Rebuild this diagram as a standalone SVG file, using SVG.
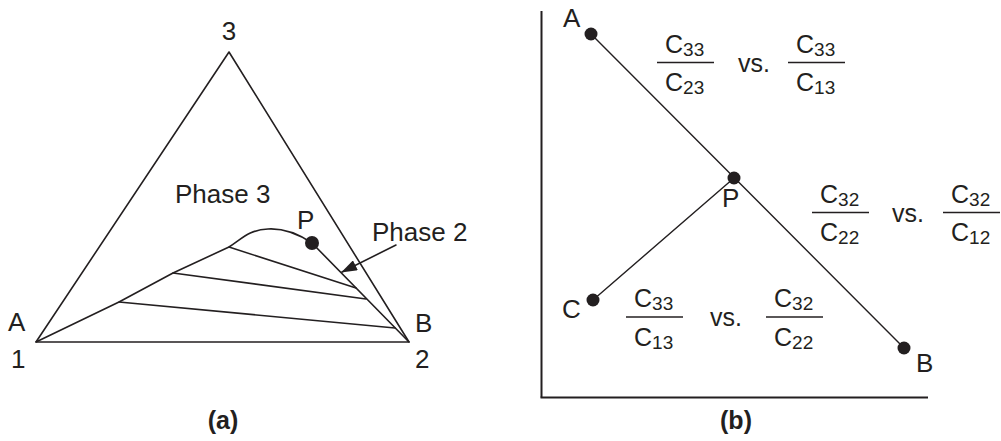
<svg xmlns="http://www.w3.org/2000/svg" width="1001" height="441" viewBox="0 0 1001 441">
<style>
.ln{fill:none;stroke:#231f20;stroke-width:1.6;stroke-linejoin:round;stroke-linecap:round}
.ax{fill:none;stroke:#231f20;stroke-width:2}
.t{font-family:"Liberation Sans",Arial,Helvetica,sans-serif;fill:#231f20;font-size:26px}
.ph{font-size:26px}
.cap{font-weight:bold;font-size:25px;text-anchor:middle}
.c{font-size:25px}
.s{font-size:19px}
.dot{fill:#231f20}
.bar{stroke:#231f20;stroke-width:1.6}
</style>
<defs>
<marker id="ah" markerWidth="16" markerHeight="11" refX="15" refY="5.5" orient="auto" markerUnits="userSpaceOnUse">
<path d="M0,0 L16,5.5 L0,11 Z" fill="#231f20"/>
</marker>
</defs>
<rect width="1001" height="441" fill="#fff"/>

<!-- Panel (a) -->
<g id="triangle">
<polygon class="ln" points="36,342 229,52 409,342"/>
</g>
<g id="binodal">
<path class="ln" d="M36,342 L119,302 L173,273 L229,247 C242,239 248,230 268,229 C286,228 300,235 312,243 L409,342"/>
</g>
<g id="tielines">
<line class="ln" x1="119" y1="302" x2="395" y2="328"/>
<line class="ln" x1="173" y1="273" x2="366" y2="299"/>
<line class="ln" x1="229" y1="247" x2="356" y2="288"/>
</g>
<g id="nodeP_a">
<circle class="dot" cx="312" cy="243" r="7"/>
<text class="t" x="297" y="229">P</text>
</g>
<g id="labels_a">
<text class="t" x="229" y="40" text-anchor="middle">3</text>
<text class="t" x="8" y="331">A</text>
<text class="t" x="11" y="368">1</text>
<text class="t" x="415" y="332">B</text>
<text class="t" x="415" y="368">2</text>
<text class="t ph" x="175" y="203">Phase 3</text>
<text class="t ph" x="372" y="241">Phase 2</text>
<text class="t cap" x="223" y="429">(a)</text>
</g>
<g id="arrow_a">
<line class="ln" x1="396" y1="245" x2="342" y2="272" marker-end="url(#ah)"/>
</g>

<!-- Panel (b) -->
<g id="axes">
<line class="ax" x1="541.5" y1="11" x2="541.5" y2="397.5"/>
<line class="ax" x1="540.5" y1="397.5" x2="928" y2="397.5"/>
</g>
<g id="connectors">
<line class="ln" x1="591" y1="34" x2="904" y2="348" style="stroke-width:1.4"/>
<line class="ln" x1="593" y1="300" x2="734" y2="178" style="stroke-width:1.4"/>
</g>
<g id="nodeA">
<circle class="dot" cx="591" cy="34" r="6.5"/>
<text class="t" x="563" y="27">A</text>
</g>
<g id="nodeP">
<circle class="dot" cx="734" cy="178" r="6.5"/>
<text class="t" x="722" y="207">P</text>
</g>
<g id="nodeC">
<circle class="dot" cx="593" cy="300" r="6.5"/>
<text class="t" x="562" y="318">C</text>
</g>
<g id="nodeB">
<circle class="dot" cx="904" cy="348" r="6.5"/>
<text class="t" x="916" y="372">B</text>
</g>

<g id="ratio_AP">
<text class="t c" x="665" y="53">C<tspan class="s" dy="3">33</tspan></text>
<line class="bar" x1="657" y1="62.5" x2="714" y2="62.5"/>
<text class="t c" x="665" y="91">C<tspan class="s" dy="3">23</tspan></text>
<text class="t c" x="738" y="72">vs.</text>
<text class="t c" x="796" y="53">C<tspan class="s" dy="3">33</tspan></text>
<line class="bar" x1="788" y1="62.5" x2="845" y2="62.5"/>
<text class="t c" x="796" y="91">C<tspan class="s" dy="3">13</tspan></text>
</g>
<g id="ratio_PB">
<text class="t c" x="820" y="203">C<tspan class="s" dy="3">32</tspan></text>
<line class="bar" x1="812" y1="212.5" x2="869" y2="212.5"/>
<text class="t c" x="820" y="241">C<tspan class="s" dy="3">22</tspan></text>
<text class="t c" x="892" y="222">vs.</text>
<text class="t c" x="951" y="203">C<tspan class="s" dy="3">32</tspan></text>
<line class="bar" x1="943" y1="212.5" x2="1000" y2="212.5"/>
<text class="t c" x="951" y="241">C<tspan class="s" dy="3">12</tspan></text>
</g>
<g id="ratio_CP">
<text class="t c" x="634" y="307">C<tspan class="s" dy="3">33</tspan></text>
<line class="bar" x1="626" y1="317" x2="683" y2="317"/>
<text class="t c" x="634" y="346">C<tspan class="s" dy="3">13</tspan></text>
<text class="t c" x="710" y="326">vs.</text>
<text class="t c" x="774" y="307">C<tspan class="s" dy="3">32</tspan></text>
<line class="bar" x1="766" y1="317" x2="823" y2="317"/>
<text class="t c" x="774" y="346">C<tspan class="s" dy="3">22</tspan></text>
</g>
<g id="caption_b">
<text class="t cap" x="736" y="429">(b)</text>
</g>
</svg>
